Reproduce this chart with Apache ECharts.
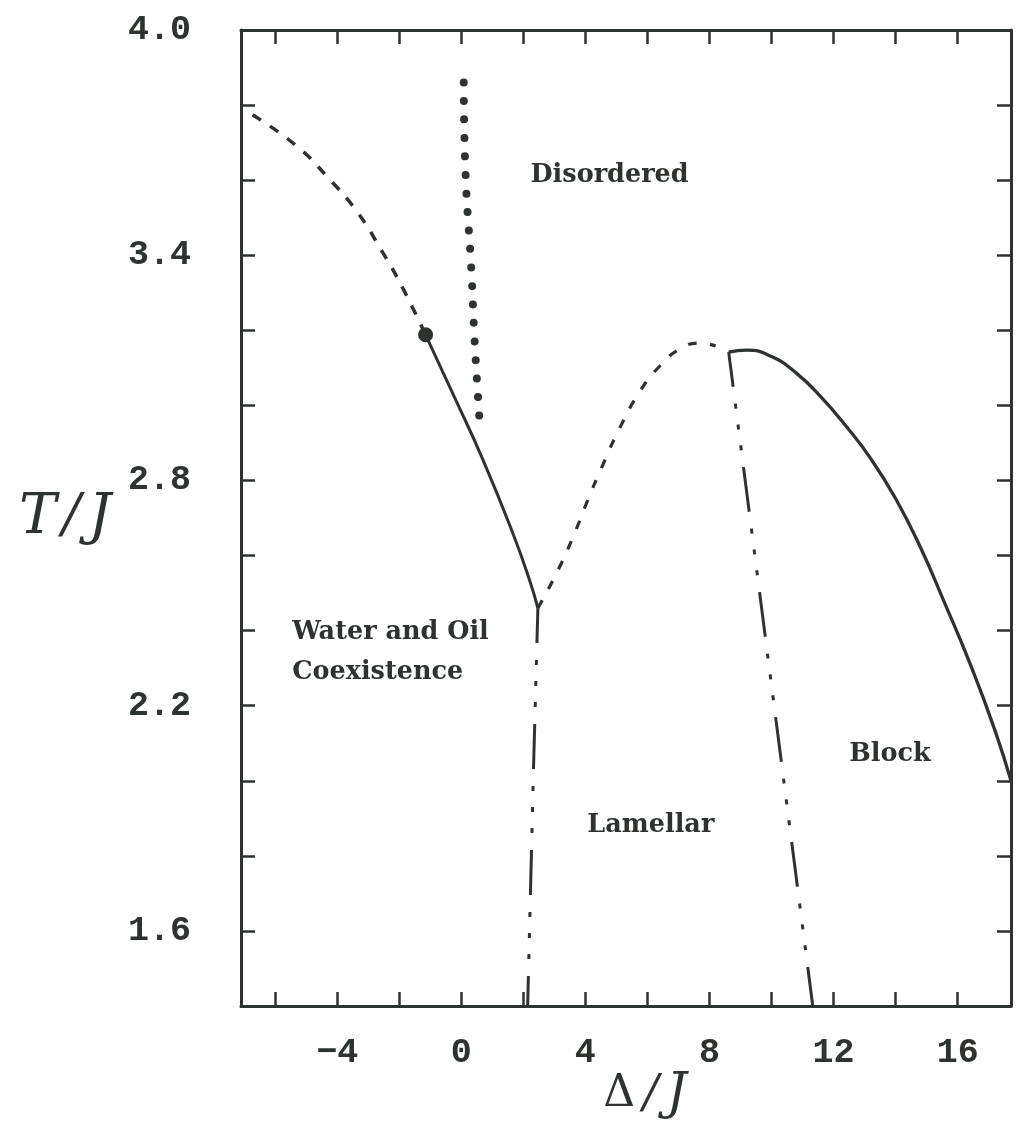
<!DOCTYPE html>
<html><head><meta charset="utf-8">
<script src="https://cdn.jsdelivr.net/npm/echarts@6/dist/echarts.min.js"></script>
<style>html,body{margin:0;padding:0;background:#fff;}#chart{width:1017px;height:1124px;}</style>
</head><body><div id="chart"></div>
<script>
// ---- axis ticks / labels ----
const xTickValues = [-6, -4, -2, 0, 2, 4, 6, 8, 10, 12, 14, 16];
const xLabelValues = [-4, 0, 4, 8, 12, 16];
const yTickValues = [1.6, 1.8, 2.0, 2.2, 2.4, 2.6, 2.8, 3.0, 3.2, 3.4, 3.6, 3.8];
const yLabelValues = [1.6, 2.2, 2.8, 3.4, 4.0];

// ---- phase boundaries (Delta/J, T/J) ----
const metaX = [-6.73, -5.31, -4.31, -3.35, -2.58, -1.89, -1.15];
const metaY = [3.774, 3.691, 3.608, 3.515, 3.414, 3.313, 3.188];
const coexX = [-1.15, -0.22, 0.70, 1.66, 2.20, 2.47];
const coexY = [3.188, 3.022, 2.855, 2.660, 2.535, 2.460];
const criticalX = [-1.15];
const criticalY = [3.188];
const dotX = [0.08, 0.14, 0.32, 0.43, 0.61];
const dotY = [3.860, 3.614, 3.369, 3.174, 2.934];
const archX = [2.47, 3.04, 3.56, 4.04, 4.56, 5.11, 5.75, 6.40, 7.04, 7.69, 8.20];
const archY = [2.460, 2.548, 2.641, 2.740, 2.841, 2.940, 3.036, 3.105, 3.150, 3.166, 3.158];
const blockX = [8.62, 9.20, 10.00, 10.80, 11.60, 12.40, 13.20, 14.00, 14.80, 15.60, 16.40, 17.20, 17.72];
const blockY = [3.142, 3.147, 3.130, 3.086, 3.022, 2.945, 2.858, 2.752, 2.622, 2.470, 2.312, 2.135, 2.000];
const lamLeftX = [2.47, 2.33, 2.14];
const lamLeftY = [2.460, 2.037, 1.40];
const lamRightX = [8.62, 11.33];
const lamRightY = [3.142, 1.40];

// ---- region labels ----
const regionNames = ['Disordered', 'Water and Oil\nCoexistence', 'Lamellar', 'Block'];
const regionX = [4.78, -5.45, 6.11, 13.82];
const regionY = [3.614, 2.343, 1.882, 2.069];

const INK = '#2e332f';
const zip = (xs, ys) => xs.map((x, i) => [x, ys[i]]);
const dashPattern = [45, 17, 5, 16, 5, 16, 5, 17];

const tickStyle = { show: true, inside: true, length: 14, lineStyle: { color: INK, width: 2.5 } };
const monoLabel = { fontFamily: 'Liberation Mono', fontWeight: 'bold', fontSize: 35, color: INK };

function lineSeries(xs, ys, width, type, extra) {
  return Object.assign({
    type: 'line', data: zip(xs, ys), showSymbol: false, symbol: 'none',
    lineStyle: { color: INK, width: width, type: type },
    silent: true, z: 3
  }, extra || {});
}

const X_MIN = -7.1, X_MAX = 17.72, Y_MIN = 1.4, Y_MAX = 4.0;

const chart = echarts.init(document.getElementById('chart'), null, { renderer: 'canvas' });
chart.setOption({
  animation: false,
  backgroundColor: '#ffffff',
  grid: { left: 241, right: 6, top: 30, bottom: 118, containLabel: false, outerBoundsMode: 'none' },
  xAxis: [{
    type: 'value', min: X_MIN, max: X_MAX, position: 'bottom',
    axisLine: { show: true, onZero: false, lineStyle: { color: INK, width: 3 } },
    axisTick: Object.assign({ customValues: xTickValues }, tickStyle),
    axisLabel: Object.assign({ customValues: xLabelValues, margin: 30,
      formatter: v => String(v).replace('-', '\u2212') }, monoLabel),
    splitLine: { show: false },
    name: '{d|\u0394}{s|/}{j|J}', nameLocation: 'middle', nameGap: 64, nameMoveOverlap: false,
    nameTextStyle: {
      padding: [0, 0, 0, 38],
      rich: {
        d: { fontFamily: 'DejaVu Serif', fontSize: 44, color: INK },
        s: { fontFamily: 'DejaVu Serif', fontStyle: 'italic', fontSize: 46, color: INK, padding: [0, 8, 0, 8] },
        j: { fontFamily: 'DejaVu Serif', fontStyle: 'italic', fontSize: 50, color: INK }
      }
    }
  }, {
    type: 'value', min: X_MIN, max: X_MAX, position: 'top',
    axisLine: { show: true, onZero: false, lineStyle: { color: INK, width: 3 } },
    axisTick: Object.assign({ customValues: xTickValues }, tickStyle),
    axisLabel: { show: false }, splitLine: { show: false }
  }],
  yAxis: [{
    type: 'value', min: Y_MIN, max: Y_MAX, position: 'left',
    axisLine: { show: true, onZero: false, lineStyle: { color: INK, width: 3 } },
    axisTick: Object.assign({ customValues: yTickValues }, tickStyle),
    axisLabel: Object.assign({ customValues: yLabelValues, margin: 50,
      formatter: v => Number(v).toFixed(1) }, monoLabel),
    splitLine: { show: false },
    name: '{t|T}{s|/}{j|J}', nameLocation: 'middle', nameRotate: 0, nameGap: 130,
    nameTextStyle: {
      rich: {
        t: { fontFamily: 'DejaVu Serif', fontStyle: 'italic', fontSize: 56, color: INK },
        s: { fontFamily: 'DejaVu Serif', fontStyle: 'italic', fontSize: 54, color: INK, padding: [0, 8, 0, 6] },
        j: { fontFamily: 'DejaVu Serif', fontStyle: 'italic', fontSize: 56, color: INK }
      }
    }
  }, {
    type: 'value', min: Y_MIN, max: Y_MAX, position: 'right',
    axisLine: { show: true, onZero: false, lineStyle: { color: INK, width: 3 } },
    axisTick: Object.assign({ customValues: yTickValues }, tickStyle),
    axisLabel: { show: false }, splitLine: { show: false }
  }],
  series: [
    lineSeries(metaX, metaY, 3.5, [10, 11], { smooth: 0.5 }),
    lineSeries(coexX, coexY, 3, 'solid', { smooth: 0.5 }),
    lineSeries(dotX, dotY, 8, [0.01, 18.5], { smooth: 0.5, lineStyle: { color: INK, width: 8, type: [0.01, 18.5], cap: 'round' } }),
    lineSeries(archX, archY, 3.2, [9, 13], { smooth: 0.5 }),
    lineSeries(blockX, blockY, 3.3, 'solid', { smooth: 0.5 }),
    lineSeries(lamLeftX, lamLeftY, 3, dashPattern, { lineStyle: { color: INK, width: 3, type: dashPattern, dashOffset: 10 } }),
    lineSeries(lamRightX, lamRightY, 3, dashPattern, { lineStyle: { color: INK, width: 3, type: dashPattern, dashOffset: 10 } }),
    {
      type: 'scatter', data: zip(criticalX, criticalY), symbol: 'circle', symbolSize: 15,
      itemStyle: { color: INK, opacity: 1 }, silent: true, z: 4
    },
    {
      type: 'scatter', symbolSize: 0, silent: true, z: 5,
      itemStyle: { color: INK, opacity: 1 },
      data: regionNames.map((n, i) => ({
        name: n, value: [regionX[i], regionY[i]],
        label: i === 1 ? { position: 'right', distance: 0 } : { position: 'inside' }
      })),
      label: {
        show: true, formatter: p => p.name, opacity: 1,
        fontFamily: 'DejaVu Serif', fontWeight: 'bold', fontSize: 25.5, lineHeight: 40, color: INK
      }
    }
  ]
});
</script>
</body></html>
